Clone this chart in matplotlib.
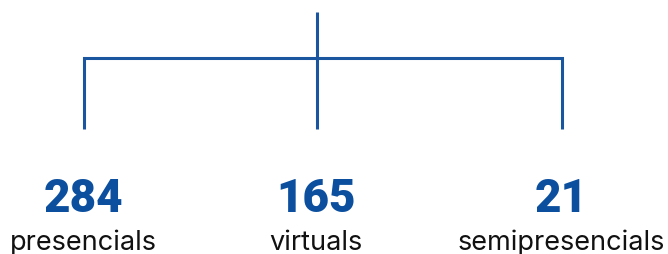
import matplotlib
matplotlib.use("Agg")
from matplotlib import pyplot as plt

# data
categories = ["presencials", "virtuals", "semipresencials"]
counts = [284, 165, 21]

blue = "#1a56a0"
num_blue = "#0b4f9e"

W, H = 668, 255
fig = plt.figure(figsize=(W / 100, H / 100), dpi=100)
ax = fig.add_axes([0, 0, 1, 1])
ax.set_xlim(0, W)
ax.set_ylim(H, 0)
ax.axis("off")

# branch positions (pixels)
xs = [84, 317, 562]
y_top, y_bar, y_bot = 13, 59, 130

lw = 2.2
ax.plot([xs[1], xs[1]], [y_top, y_bot], color=blue, lw=lw, solid_capstyle="butt")
ax.plot([xs[0], xs[0], xs[-1], xs[-1]], [y_bot, y_bar, y_bar, y_bot],
        color=blue, lw=lw, solid_capstyle="butt", solid_joinstyle="miter")

for x, c, n in zip(xs, categories, counts):
    ax.text(x - 1, 199, str(n), ha="center", va="center", fontsize=33,
            fontweight="heavy", family="Roboto", color=num_blue)
    ax.text(x - 1, 243, c, ha="center", va="center", fontsize=19.5,
            family="Inter", color="#111111")

fig.savefig("out.png", dpi=100)
